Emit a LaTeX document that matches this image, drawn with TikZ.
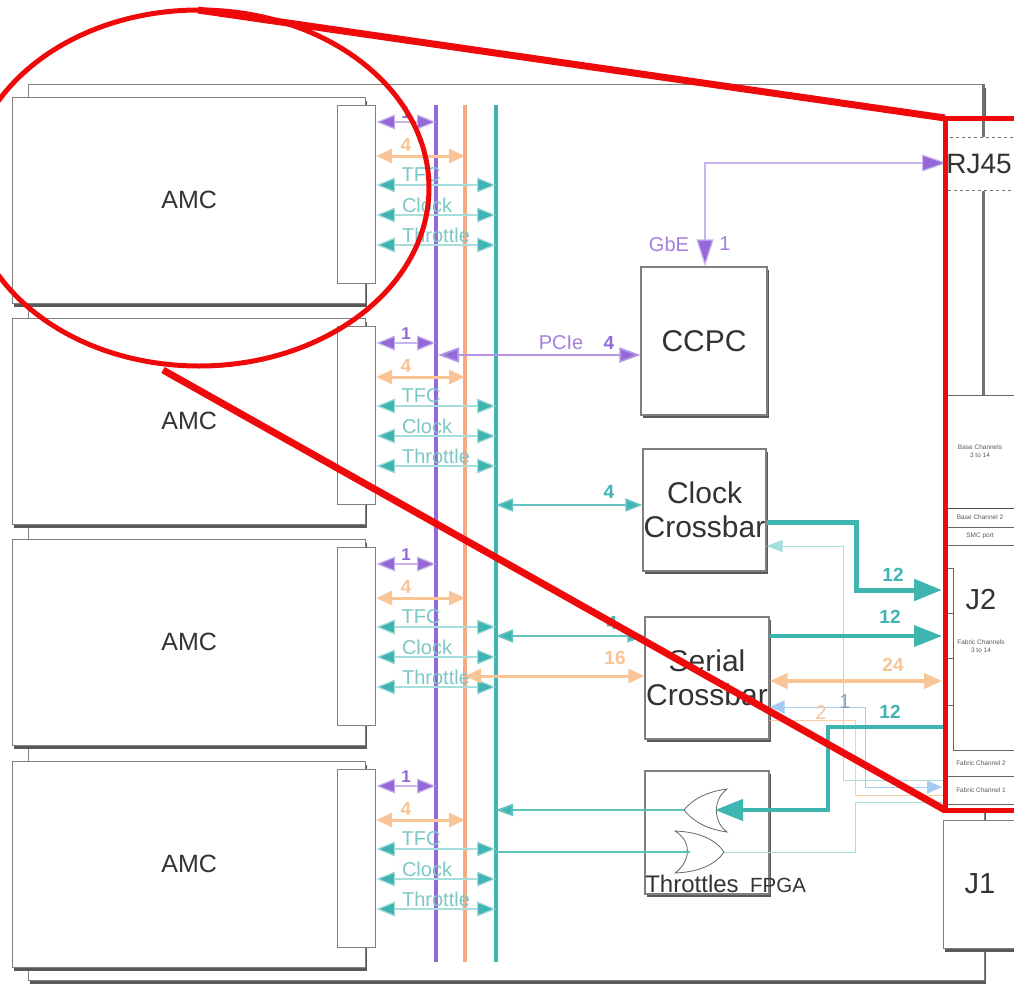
\documentclass[tikz,border=0pt]{standalone}
\usepackage{fontspec}
\setmainfont{Liberation Sans}
\usetikzlibrary{arrows.meta,shadows,calc}
\definecolor{tealC}{HTML}{3FB5B2}
\definecolor{tealL}{HTML}{A6DEDB}
\definecolor{tealT}{HTML}{7CC8C6}
\definecolor{purpC}{HTML}{9468D8}
\definecolor{purpL}{HTML}{C9B4EC}
\definecolor{oranC}{HTML}{F9C596}
\definecolor{oranB}{HTML}{F5A985}
\definecolor{blueC}{HTML}{A6CBF5}
\definecolor{redC}{HTML}{EE0A0A}
\definecolor{inkC}{HTML}{333333}
\definecolor{edgeC}{HTML}{808080}
\tikzset{
  x=1pt,y=-1pt,
  shade1/.style={drop shadow={shadow xshift=1.5pt,shadow yshift=-3pt,fill=black!65,opacity=1}},
  amcbox/.style={draw=edgeC,line width=1.2pt,fill=white,anchor=north west,inner sep=0pt,minimum width=353pt,minimum height=206pt,text=inkC,font=\fontsize{25}{28}\selectfont,shade1},
  connbox/.style={draw=edgeC,line width=1.2pt,fill=white,anchor=north west,inner sep=0pt,minimum width=38pt,minimum height=178pt},
  blockbox/.style={draw=edgeC,line width=1.2pt,fill=white,inner sep=0pt,text=inkC,align=center,font=\fontsize{30}{36}\selectfont,shade1},
  tiny/.style={font=\fontsize{6.5}{8}\selectfont,text=black!65,align=center,inner sep=0pt},
  lab/.style={inner sep=0pt,font=\fontsize{20}{24}\selectfont},
  nlab/.style={inner sep=0pt,font=\fontsize{19}{22}\selectfont\bfseries},
  rowP/.style={draw=purpL,line width=1.2pt,{Triangle[length=19pt,width=15pt,fill=purpC]}-{Triangle[length=19pt,width=15pt,fill=purpC]}},
  rowO/.style={draw=oranC,line width=3pt,{Triangle[length=16pt,width=14pt,fill=oranC]}-{Triangle[length=16pt,width=14pt,fill=oranC]}},
  rowT/.style={draw=tealL,line width=1.2pt,{Triangle[length=19pt,width=15pt,fill=tealC]}-{Triangle[length=19pt,width=15pt,fill=tealC]}},
  thickT/.style={draw=tealC,line width=5pt,-{Triangle[length=28pt,width=21pt,fill=tealC]}},
  gridline/.style={draw=black!60,line width=1pt},
  redline/.style={draw=redC,line width=7pt},
  gateS/.style={draw=black!60,line width=0.8pt,fill=white},
}
\begin{document}
\begin{tikzpicture}
\useasboundingbox (0,0) rectangle (1014,985);
\fill[white] (0,0) rectangle (1014,985);
% board
\node[draw=edgeC,line width=1.2pt,fill=white,anchor=north west,inner sep=0pt,minimum width=956pt,minimum height=896pt,shade1] (board) at (28,84) {};
% buses
\coordinate (pT) at (436,105); \coordinate (pB) at (436,962);
\coordinate (oT) at (465,105); \coordinate (oB) at (465,962);
\coordinate (tT) at (496,105); \coordinate (tB) at (496,962);
\draw[purpC,line width=3.2pt] (pT) -- (pB);
\draw[oranB,line width=3.2pt] (oT) -- (oB);
\draw[tealC,line width=3.2pt] (tT) -- (tB);
% AMC rows
\foreach \r/\dy in {1/0,2/221,3/442,4/664}{
  \node[amcbox] (amc\r) at (12,{97+\dy}) {\raisebox{2pt}{AMC}\hspace{4pt}};
  \node[connbox] (conn\r) at (337,{105+\dy}) {};
  \coordinate (rp\r) at (436,{122+\dy});
  \coordinate (ro\r) at (465,{156+\dy});
  \coordinate (rt\r) at (496,{185+\dy});
  \coordinate (rc\r) at (496,{215+\dy});
  \coordinate (rh\r) at (496,{245+\dy});
  \draw[rowP] (conn\r.east |- rp\r) -- (rp\r);
  \draw[rowO] (conn\r.east |- ro\r) -- (ro\r);
  \draw[rowT] (conn\r.east |- rt\r) -- (rt\r);
  \draw[rowT] (conn\r.east |- rc\r) -- (rc\r);
  \draw[rowT] (conn\r.east |- rh\r) -- (rh\r);
  \node[nlab,text=purpC,font=\fontsize{17}{20}\selectfont\bfseries] (l1\r) at (406,{113+\dy}) {1};
  \node[nlab,text=oranC] (l4\r) at (406,{145+\dy}) {4};
  \node[lab,text=tealT] (lt\r) at (421,{175+\dy}) {TFC};
  \node[lab,text=tealT] (lc\r) at (427,{205+\dy}) {Clock};
  \node[lab,text=tealT] (lh\r) at (436,{235+\dy}) {Throttle};
}
% blocks
\node[blockbox,minimum width=126pt,minimum height=148pt] (ccpc) at (704,341) {CCPC};
\node[blockbox,minimum width=123pt,minimum height=122pt] (clk) at (704.5,510) {Clock\\[-2pt]Crossbar};
\node[blockbox,minimum width=124pt,minimum height=122pt] (ser) at (707,678) {Serial\\[-2pt]Crossbar};
\node[blockbox,minimum width=124pt,minimum height=123pt] (fpga) at (707,832.5) {};
\node[inner sep=0pt,text=inkC,font=\fontsize{24}{28}\selectfont] (thr) at (692,884) {Throttles};
\node[inner sep=0pt,text=inkC,font=\fontsize{20.5}{24}\selectfont] (fp) at (778,885) {FPGA};
% right side panel
\fill[white] (947,118) rectangle (1014,810);
\draw[draw=black!55,line width=3pt] (983,84) -- (983,137);
\draw[draw=black!55,line width=3pt] (983,190) -- (983,395);
\node[draw=black!55,dashed,line width=1.2pt,fill=white,anchor=north west,inner sep=0pt,minimum width=72pt,minimum height=53pt] (rj) at (947,137) {};
\node[inner sep=0pt,text=inkC,font=\fontsize{28}{32}\selectfont] (rjt) at (979,164) {RJ45};
\draw[gridline] (945,395) -- (1014,395);
\draw[gridline,black!70] (945,508) -- (1014,508);
\draw[gridline] (945,527) -- (1014,527);
\draw[gridline] (945,545) -- (1014,545);
\draw[gridline] (1014,750) -- (953,750) -- (953,568) -- (945,568);
\draw[gridline] (945,613) -- (953,613);
\draw[gridline] (945,658) -- (953,658);
\draw[gridline] (945,705) -- (953,705);
\draw[gridline] (945,776) -- (1014,776);
\draw[gridline] (945,804) -- (1014,804);
\node[tiny] (t1) at (980,451) {Base Channels\\3 to 14};
\node[tiny] (t2) at (980,517) {Base Channel 2};
\node[tiny] (t3) at (980,536) {SMC port};
\node[tiny] (t4) at (981,646) {Fabric Channels\\3 to 14};
\node[tiny] (t5) at (981,763) {Fabric Channel 2};
\node[tiny] (t6) at (981,790) {Fabric Channel 1};
\node[draw=edgeC,line width=1.2pt,fill=white,anchor=north west,inner sep=0pt,minimum width=80pt,minimum height=128pt,shade1] (j1) at (943,820) {};
\node[inner sep=0pt,text=inkC,font=\fontsize{29}{32}\selectfont] (j1t) at (980,884) {J1};
\node[inner sep=0pt,text=inkC,font=\fontsize{29}{32}\selectfont] (j2t) at (981,600) {J2};
% connector ends
\coordinate (jA) at (942,590);
\coordinate (jB) at (942,636);
\coordinate (jC) at (942,681);
\coordinate (jD) at (944,727);
\coordinate (jE) at (944,780);
\coordinate (jF) at (942,787);
\coordinate (jG) at (944,795);
\coordinate (jH) at (944,802);
\coordinate (g1in) at (684,810);
\coordinate (g1tip) at (715,810);
\coordinate (g2in) at (690,852);
\coordinate (g2out) at (724,852);
% thin connectors at the right (below the thick ones)
\draw[tealL,line width=1pt,-{Triangle[length=16pt,width=12pt,fill=tealL]}] (jE) -- (843,780) -- (843,546) -- (clk.east |- 0,546);
\draw[blueC,line width=1pt,-{Triangle[length=15pt,width=13pt,fill=blueC]}] (865,787) -- (865,707) -- (ser.east |- 0,707);
\draw[blueC,line width=1pt,-{Triangle[length=15pt,width=13pt,fill=blueC]}] (865,787) -- (jF);
\draw[oranC!85,line width=0.9pt] (ser.east |- 0,720) -- (855,720) -- (855,795) -- (jG);
\draw[tealL,line width=1pt] (jH) -- (855,802) -- (855,852) -- (g2out);
% gates
\draw[gateS] (727,789) .. controls (705,792) and (692,800) .. (684,810) .. controls (692,820) and (705,829) .. (727,832) .. controls (716,825) and (710,802) .. (727,789) -- cycle;
\draw[gateS] (675,831) .. controls (700,832) and (716,840) .. (724,852) .. controls (716,864) and (700,872) .. (675,873) .. controls (690,862) and (693,842) .. (675,831) -- cycle;
% block connectors
\draw[purpL,line width=1.2pt,{Triangle[length=25pt,width=17pt,fill=purpC]}-{Triangle[length=27pt,width=17pt,fill=purpC]}] (rj.west |- 0,163) -- (705,163) -- (ccpc.north -| 705,0);
\draw[purpC!70,line width=1.8pt,{Triangle[length=21pt,width=15pt,fill=purpC]}-{Triangle[length=21pt,width=15pt,fill=purpC]}] (438,355) -- (ccpc.west |- 0,355);
\draw[tealC!80,line width=1.5pt,{Triangle[length=17pt,width=13pt,fill=tealC]}-{Triangle[length=17pt,width=13pt,fill=tealC]}] (tT |- 0,505) -- (clk.west |- 0,505);
\draw[tealC!80,line width=1.5pt,{Triangle[length=17pt,width=13pt,fill=tealC]}-{Triangle[length=17pt,width=13pt,fill=tealC]}] (tT |- 0,636) -- (ser.west |- 0,636);
\draw[rowO] (oT |- 0,676) -- (ser.west |- 0,676);
\draw[thickT] (clk.east |- 0,522) -- (856,522) -- (856,590) -- (jA);
\draw[tealC,line width=3.6pt,-{Triangle[length=28pt,width=21pt,fill=tealC]}] (ser.east |- jB) -- (jB);
\draw[oranC,line width=4pt,{Triangle[length=18pt,width=15pt,fill=oranC]}-{Triangle[length=18pt,width=15pt,fill=oranC]}] (ser.east |- jC) -- (jC);
\draw[tealC,line width=4.5pt,-{Triangle[length=28pt,width=21pt,fill=tealC]}] (jD) -- (828,727) -- (828,810) -- (g1tip);
\draw[tealC!85,line width=1.8pt,-{Triangle[length=17pt,width=12pt,fill=tealC]}] (g1in) -- (tT |- g1in);
\draw[tealC!85,line width=1.8pt] (g2in) -- (tT |- g2in);
% labels
\node[lab,text=purpC!85] (lgbe) at (669,244) {GbE};
\node[lab,text=purpC!85] (lgb1) at (725,244) {1};
\node[lab,text=purpC!85] (lpcie) at (561,343) {PCIe};
\node[nlab,text=purpC] (lp4) at (609,343) {4};
\node[nlab,text=tealC] (lc4) at (609,492) {4};
\node[nlab,text=tealC] (ls4) at (612,623) {4};
\node[nlab,text=oranC] (ls16) at (615,658) {16};
\node[nlab,text=tealC] (l12a) at (893,575) {12};
\node[nlab,text=tealC] (l12b) at (890,617) {12};
\node[nlab,text=oranC] (l24) at (893,665) {24};
\node[nlab,text=tealC] (l12c) at (890,712) {12};
\node[lab,text=blueC!80!black] (lb1) at (845,702) {1};
\node[lab,text=oranC] (lo2) at (821,713) {2};
% red callout
\coordinate (rA) at (198,10); \coordinate (rB) at (945,118);
\coordinate (rC) at (163,370); \coordinate (rD) at (945,810);
\coordinate (rE) at (1014,118); \coordinate (rF) at (1014,810);
\draw[redC,line width=5pt] (199,188) ellipse [x radius=230,y radius=178];
\draw[redline,line cap=butt] (rA) -- (rB);
\draw[redline,line cap=butt] (rC) -- (rD);
\draw[redC,line width=5pt,line join=miter] (rE) -- (rB) -- (rD) -- (rF);
\end{tikzpicture}
\end{document}
